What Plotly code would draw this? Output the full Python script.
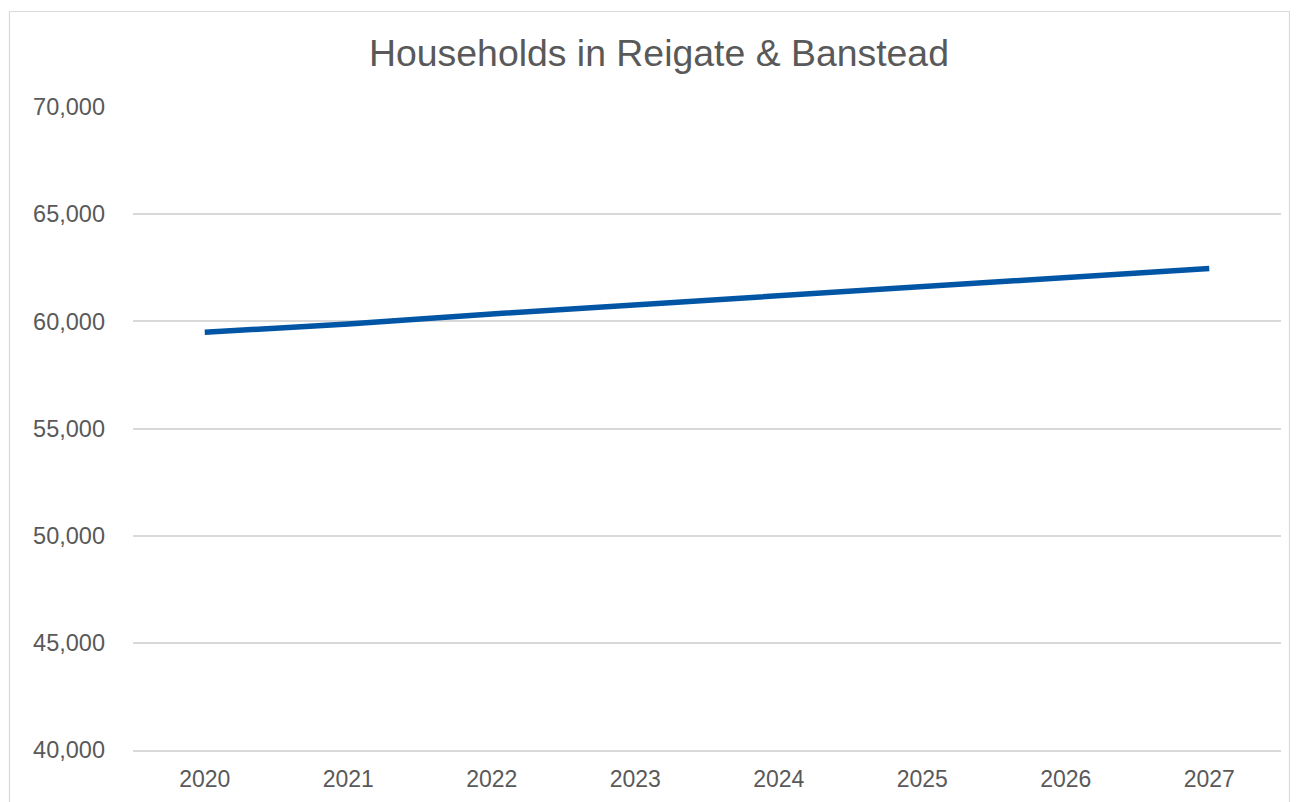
import plotly.graph_objects as go

years = ["2020", "2021", "2022", "2023", "2024", "2025", "2026", "2027"]
households = [59490, 59880, 60345, 60780, 61215, 61650, 62075, 62470]
y_ticks = [40000, 45000, 50000, 55000, 60000, 65000, 70000]
title_text = "Households in Reigate & Banstead"

# page body has an 8px default margin
OFF = 8
W, H = 1298 - OFF, 802 - OFF
L, T, B = 133 - OFF, 107 - OFF, 52
R = W - (1281 - OFF)
pw, ph = W - L - R, H - T - B

fig = go.Figure()
fig.add_trace(go.Scatter(
    x=years, y=households, mode="lines",
    line=dict(color="#0055A5", width=5.5),
    hoverinfo="x+y",
))

def px2paper_x(px):
    return (px - OFF - L) / pw

def px2paper_y(py):
    return 1 - (py - OFF - T) / ph

fig.update_layout(
    width=W, height=H,
    margin=dict(l=L, r=R, t=T, b=B, pad=0, autoexpand=False),
    paper_bgcolor="white", plot_bgcolor="white",
    font=dict(family="Liberation Sans, Arial, sans-serif", color="#595959", size=24),
    title=dict(text=title_text, x=(659 - OFF) / W, xanchor="center",
               y=1 - (53 - OFF) / H, yanchor="middle",
               font=dict(size=37.4, color="#595959")),
    showlegend=False,
    xaxis=dict(type="category", range=[-0.5, 7.5], showgrid=False,
               showline=True, linecolor="#D9D9D9", linewidth=1.5,
               zeroline=False, ticks="", ticklabelstandoff=8, automargin=False,
               tickfont=dict(size=23, color="#595959")),
    yaxis=dict(range=[40000, 70000], tickvals=y_ticks, tickformat=",",
               showgrid=True, gridcolor="#D9D9D9", gridwidth=1.5,
               zeroline=False, showline=False, ticks="", automargin=False,
               ticklabelstandoff=27,
               tickfont=dict(size=23.5, color="#595959")),
    shapes=[dict(type="rect", xref="paper", yref="paper",
                 x0=px2paper_x(9.5), x1=px2paper_x(1289.5),
                 y0=px2paper_y(830), y1=px2paper_y(11.5),
                 line=dict(color="#D9D9D9", width=1.2), fillcolor="rgba(0,0,0,0)",
                 layer="below")],
)

fig.write_html("out.html")
